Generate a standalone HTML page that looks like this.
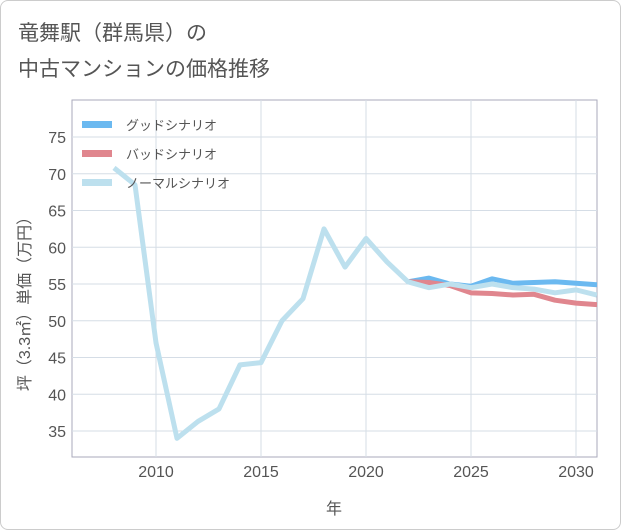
<!DOCTYPE html>
<html><head><meta charset="utf-8"><style>
body{margin:0;background:#fff;font-family:"Liberation Sans","Noto Sans CJK JP",sans-serif;}
#c{position:relative;width:619px;height:528px;border:1px solid #ccc;border-radius:8px;overflow:hidden;background:#fff}
</style></head><body>
<div id="c">
<svg id="s" width="621" height="530" style="position:absolute;left:-1px;top:-1px">
<text x="18" y="40" font-size="21" fill="#555">竜舞駅（群馬県）の</text>
<text x="18" y="76" font-size="21" fill="#555">中古マンションの価格推移</text>
</svg>
</div>
<script>
const years=[2008,2009,2010,2011,2012,2013,2014,2015,2016,2017,2018,2019,2020,2021,2022,2023,2024,2025,2026,2027,2028,2029,2030,2031];
const normal=[70.8,68.5,47,34,36.3,38,44,44.3,50,53,62.5,57.3,61.2,58,55.3,54.5,55,54.5,55,54.5,54.3,53.8,54.2,53.5];
const fYears=[2022,2023,2024,2025,2026,2027,2028,2029,2030,2031];
const good=[55.3,55.8,55,54.7,55.7,55.1,55.2,55.3,55.1,54.9];
const bad=[55.3,55.2,54.8,53.8,53.7,53.5,53.6,52.8,52.4,52.2];
const xTicks=[2010,2015,2020,2025,2030];
const yTicks=[35,40,45,50,55,60,65,70,75];
const NS='http://www.w3.org/2000/svg',s=document.getElementById('s');
const L=72,R=597,T=100,B=457;
const x=v=>156+(v-2010)*21, y=v=>137+(75-v)*7.35;
function el(t,a,p){const e=document.createElementNS(NS,t);for(const k in a)e.setAttribute(k,a[k]);(p||s).appendChild(e);return e;}
el('rect',{x:L,y:T,width:R-L,height:B-T,fill:'none',stroke:'#aab',"stroke-width":1});
yTicks.forEach(v=>{const g=el('line',{x1:L,x2:R,y1:y(v),y2:y(v),stroke:'#d5dde6'});

const t=el('text',{x:66,y:y(v)+6,"font-size":16,fill:'#555',"text-anchor":'end'});t.textContent=v;
});
xTicks.forEach(v=>{const g=el('line',{x1:x(v),x2:x(v),y1:T,y2:B,stroke:'#d5dde6'});

const t=el('text',{x:x(v),y:477,"font-size":16,fill:'#555',"text-anchor":'middle'});t.textContent=v;
});
const cp=el('clipPath',{id:'cp'});el('rect',{x:L,y:T,width:R-L,height:B-T},cp);
function line(xs,vs,c,n){const p=el('polyline',{points:xs.map((v,i)=>x(v)+','+y(vs[i])).join(' '),fill:'none',stroke:c,"stroke-width":5,"stroke-linejoin":'round',"clip-path":'url(#cp)'});
}
line(fYears,good,'#6bb9f0','good-scenario-line');
line(fYears,bad,'#e0868e','bad-scenario-line');
line(years,normal,'#bde0ee','normal-scenario-line');
const leg=[['グッドシナリオ','#6bb9f0',125],['バッドシナリオ','#e0868e',154],['ノーマルシナリオ','#bde0ee',183]];
leg.forEach(l=>{const r=el('rect',{x:82,y:l[2]-4,width:30,height:7,fill:l[1]});

const t=el('text',{x:126,y:l[2]+5,"font-size":13,fill:'#555'});t.textContent=l[0];
});
const xt=el('text',{x:334,y:514,"font-size":16,fill:'#555',"text-anchor":'middle'});xt.textContent='年';

const yt=el('text',{x:0,y:0,"font-size":16,fill:'#555',"text-anchor":'middle',transform:'translate(30,300) rotate(-90)'});yt.textContent='坪（3.3㎡）単価（万円）';

</script>
</body></html>
